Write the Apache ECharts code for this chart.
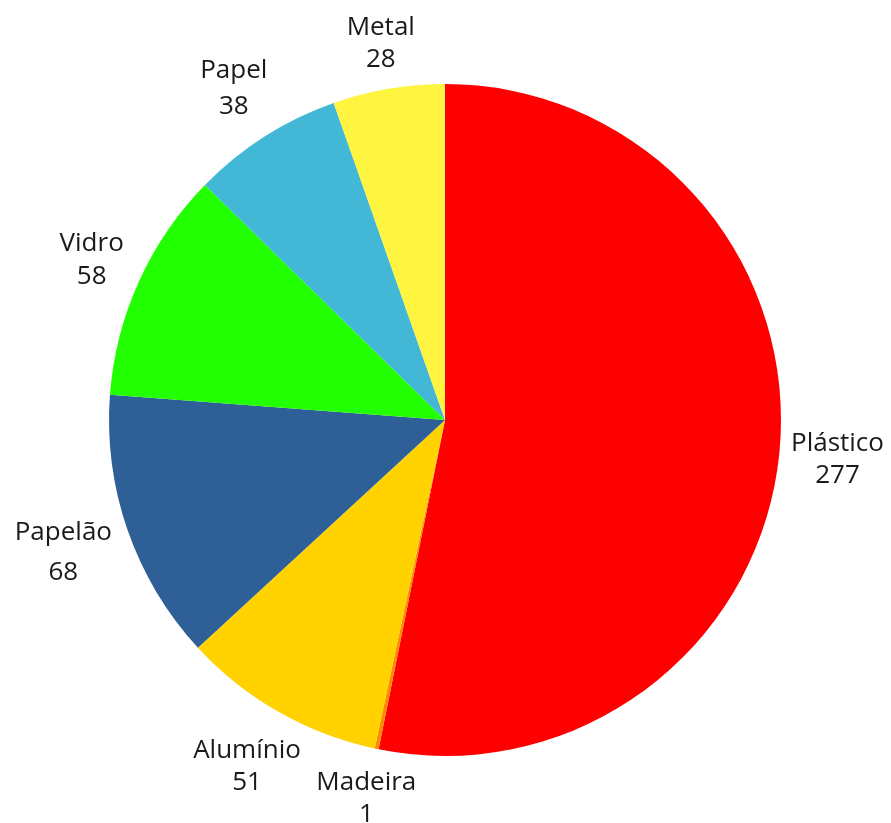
<!DOCTYPE html>
<html>
<head>
<meta charset="utf-8">
<script src="https://cdn.jsdelivr.net/npm/echarts@6/dist/echarts.min.js"></script>
<style>
  html, body { margin: 0; padding: 0; background: #fff; }
  #chart-wrap { width: 891px; height: 823px; }
</style>
</head>
<body>
<div id="chart-wrap"></div>
<script>
var names = ['Plástico', 'Madeira', 'Alumínio', 'Papelão', 'Vidro', 'Papel', 'Metal'];
var values = [277, 1, 51, 68, 58, 38, 28];
var colors = ['#ff0000', '#ff8c00', '#ffd200', '#2e5f96', '#22ff00', '#42b8d6', '#fff43f'];
var lineHeights = [32, 32, 32, 40, 33, 36, 32];

var CX = 445, CY = 420, R = 336, GAP = 9;

var total = 0;
for (var i = 0; i < values.length; i++) total += values[i];
// mid angle of each slice, clockwise from 12 o'clock
var midAngles = [];
var acc = 0;
for (var i = 0; i < values.length; i++) {
  midAngles.push((acc + values[i] / 2) / total * 2 * Math.PI);
  acc += values[i];
}

var pieData = [];
for (var i = 0; i < names.length; i++) {
  pieData.push({
    name: names[i],
    value: values[i],
    itemStyle: { color: colors[i] },
    label: { lineHeight: lineHeights[i] }
  });
}

var myChart = echarts.init(document.getElementById('chart-wrap'));
var option = {
  animation: false,
  series: [
    {
      type: 'pie',
      center: [CX, CY],
      radius: [0, R],
      startAngle: 90,
      clockwise: true,
      silent: true,
      label: {
        show: true,
        position: 'inside',
        overflow: 'none',
        formatter: '{b}\n{c}',
        fontFamily: 'Open Sans',
        fontSize: 26,
        color: '#1a1a1a',
        lineHeight: 32
      },
      labelLine: { show: false },
      // put each label just outside the circle along the slice's mid angle
      labelLayout: function (p) {
        var a = midAngles[p.dataIndex];
        var ux = Math.sin(a), uy = -Math.cos(a);
        var hw = p.labelRect.width / 2, hh = p.labelRect.height / 2;
        var d = R + GAP + hw * Math.abs(ux) + hh * Math.abs(uy);
        return { x: CX + ux * d, y: CY + uy * d, align: 'center', verticalAlign: 'middle' };
      },
      data: pieData
    }
  ]
};
myChart.setOption(option);
</script>
</body>
</html>
